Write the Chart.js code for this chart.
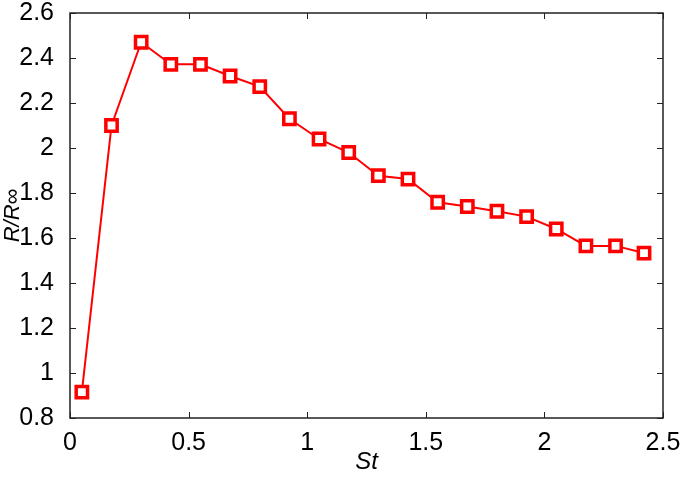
<!DOCTYPE html>
<html>
<head>
<meta charset="utf-8">
<script src="https://cdn.jsdelivr.net/npm/chart.js@4/dist/chart.umd.min.js"></script>
<style>
  html, body { margin: 0; padding: 0; background: #fff; }
  #wrap { width: 685px; height: 477px; position: relative; }
</style>
</head>
<body>
<div id="wrap"><canvas id="c" width="685" height="477"></canvas></div>
<script>
// Data
const stValues = [0.05, 0.175, 0.30, 0.425, 0.55, 0.675, 0.80, 0.925, 1.05, 1.175,
                  1.30, 1.425, 1.55, 1.675, 1.80, 1.925, 2.05, 2.175, 2.30, 2.42];
const ratioValues = [0.915, 2.10, 2.47, 2.372, 2.372, 2.32, 2.273, 2.13, 2.04, 1.98,
                     1.877, 1.862, 1.759, 1.74, 1.719, 1.695, 1.64, 1.565, 1.565, 1.533];
const xTickValues = [0, 0.5, 1, 1.5, 2, 2.5];
const yTickValues = [0.8, 1, 1.2, 1.4, 1.6, 1.8, 2, 2.2, 2.4, 2.6];
const xTitle = 'St';
const yTitle = 'R/R∞';

const points = stValues.map((x, i) => ({ x: x, y: ratioValues[i] }));
const FONT = '"Liberation Sans", Arial, Helvetica, sans-serif';
const fmt = v => String(Math.round(v * 10) / 10);

const boxAndTicks = {
  id: 'boxAndTicks',
  afterDraw(chart) {
    const { ctx, chartArea: a, scales } = chart;
    ctx.save();
    ctx.strokeStyle = '#222';
    ctx.lineWidth = 1.5;
    ctx.strokeRect(a.left, a.top, a.right - a.left, a.bottom - a.top);
    ctx.lineWidth = 1;
    const L = 6;
    ctx.beginPath();
    xTickValues.forEach(v => {
      const px = Math.round(scales.x.getPixelForValue(v)) + 0.5;
      ctx.moveTo(px, a.bottom); ctx.lineTo(px, a.bottom - L);
      ctx.moveTo(px, a.top); ctx.lineTo(px, a.top + L);
    });
    yTickValues.forEach(v => {
      const py = Math.round(scales.y.getPixelForValue(v)) + 0.5;
      ctx.moveTo(a.left, py); ctx.lineTo(a.left + L, py);
      ctx.moveTo(a.right, py); ctx.lineTo(a.right - L, py);
    });
    ctx.stroke();
    ctx.restore();
  }
};

new Chart(document.getElementById('c'), {
  type: 'scatter',
  data: {
    datasets: [{
      data: points,
      showLine: true,
      borderColor: '#ff0000',
      borderWidth: 2,
      pointStyle: 'rect',
      pointRadius: 8,
      pointHoverRadius: 8,
      pointBorderWidth: 3.5,
      pointBorderColor: '#ff0000',
      pointBackgroundColor: '#ffffff',
      tension: 0
    }]
  },
  options: {
    responsive: false,
    animation: false,
    devicePixelRatio: 1,
    layout: { autoPadding: false, padding: { left: 0, top: 12, right: 22, bottom: 0 } },
    plugins: { legend: { display: false }, tooltip: { enabled: false } },
    scales: {
      x: {
        type: 'linear', min: 0, max: 2.5,
        afterBuildTicks: s => { s.ticks = xTickValues.map(v => ({ value: v })); },
        grid: { display: false },
        border: { display: false },
        ticks: { color: '#000', font: { family: FONT, size: 25 }, padding: 2, maxRotation: 0,
                 callback: fmt },
        title: { display: true, text: xTitle, color: '#000',
                 font: { family: FONT, size: 24, style: 'italic' }, padding: { top: 0, bottom: 0 } },
        afterFit: s => { s.height = 59; }
      },
      y: {
        type: 'linear', min: 0.8, max: 2.6,
        afterBuildTicks: s => { s.ticks = yTickValues.map(v => ({ value: v })); },
        grid: { display: false },
        border: { display: false },
        ticks: { color: '#000', font: { family: FONT, size: 25, lineHeight: 0.4 }, padding: 8,
                 callback: fmt },
        title: { display: true, text: yTitle, color: '#000',
                 font: { family: FONT, size: 22, style: 'italic' }, padding: { top: 0, bottom: 0 } },
        afterFit: s => { s.width = 70; }
      }
    }
  },
  plugins: [boxAndTicks]
});
</script>
</body>
</html>
